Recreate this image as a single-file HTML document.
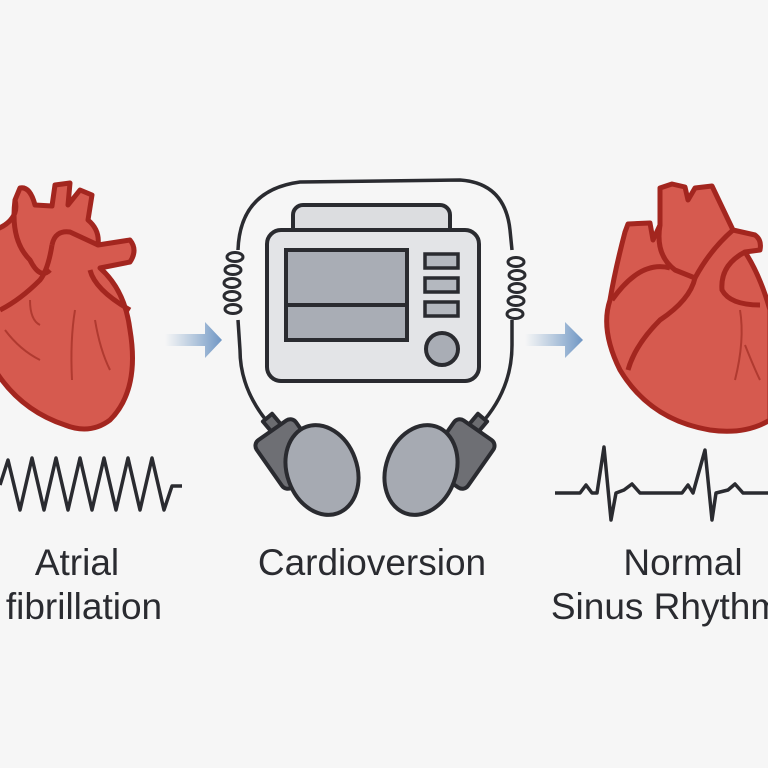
<!DOCTYPE html>
<html><head><style>
html,body{margin:0;padding:0;background:#f6f6f6;}
svg{display:block}
text{font-family:"Liberation Sans",sans-serif;fill:#2a2b30;font-size:37px;text-anchor:middle}
</style></head><body>
<svg width="768" height="768" viewBox="0 0 768 768" xmlns="http://www.w3.org/2000/svg">
<defs>
<linearGradient id="ag" x1="0" x2="1"><stop offset="0" stop-color="#7fa3c9" stop-opacity="0"/><stop offset="1" stop-color="#6f96c4"/></linearGradient>
</defs>
<rect width="768" height="768" fill="#f6f6f6"/>
<!-- left heart -->
<g stroke="#a3261f" stroke-width="5" fill="#d65a4f" stroke-linejoin="round">
<path d="M-5 230 Q20 220 15 200 L20 188 Q30 186 35 205 L52 206 L55 185 L70 183 L68 205 L80 190 L92 195 L88 220 Q100 230 98 245 L130 240 Q138 250 130 262 L100 268 Q125 290 130 330 Q140 390 110 420 Q90 435 65 425 Q20 410 -5 370 Z"/>
<path d="M15 200 Q10 240 30 260 Q40 280 50 270" fill="none"/>
<path d="M52 245 Q55 230 70 232 L98 245" fill="none"/>
<path d="M52 245 Q48 270 40 280 Q20 300 0 310" fill="none"/>
<path d="M90 270 Q95 290 130 310" fill="none"/>
<path d="M30 300 Q30 320 40 325 M75 310 Q70 340 72 380 M95 320 Q100 350 110 370 M5 330 Q20 350 40 360" stroke-width="2" fill="none" stroke="#b03a30"/>
</g>
<!-- right heart -->
<g stroke="#a3261f" stroke-width="5" fill="#d65a4f" stroke-linejoin="round">
<path d="M625 232 L628 224 L650 223 L653 240 L660 225 L660 188 L672 184 L685 187 L688 200 L695 188 L712 186 L733 230 L755 235 Q762 240 760 250 L745 252 Q760 275 770 310 L770 420 Q745 435 710 430 Q650 420 620 370 Q600 330 610 300 Q615 270 625 232 Z"/>
<path d="M660 225 Q655 255 675 270 L695 278 Q710 250 733 230" fill="none"/>
<path d="M612 300 Q640 260 670 268 M695 278 Q690 300 660 320 Q635 345 628 370" fill="none"/>
<path d="M745 252 Q720 265 722 290 Q730 305 760 305" fill="none"/>
<path d="M740 310 Q745 340 735 380 M745 345 Q755 370 760 380" stroke-width="2" fill="none" stroke="#b03a30"/>
</g>
<!-- ECG left -->
<polyline fill="none" stroke="#2a2b30" stroke-width="3.5" stroke-linejoin="round" points="0,485 8,460 20,510 32,458 44,510 56,458 68,510 80,458 92,510 104,458 116,510 128,458 140,510 152,458 164,510 172,486 182,486"/>
<!-- ECG right -->
<polyline fill="none" stroke="#2a2b30" stroke-width="3.5" stroke-linejoin="round" points="555,493 580,493 586,485 592,493 597,493 604,447 611,520 616,493 624,490 632,484 640,493 682,493 688,485 693,493 705,450 712,520 716,493 728,490 735,484 743,493 768,493"/>
<!-- arrows -->
<path d="M165 334 L205 334 L205 322 L222 340 L205 358 L205 346 L165 346 Z" fill="url(#ag)"/>
<path d="M525 334 L565 334 L565 322 L583 340 L565 358 L565 346 L525 346 Z" fill="url(#ag)"/>
<!-- cable -->
<g fill="none" stroke="#2a2b30" stroke-width="3.5">
<path d="M270 425 Q240 390 240 350 L238 320 M238 250 Q240 190 300 182 L460 180 Q505 183 510 230 L512 250 M512 320 L512 345 Q512 390 480 425"/>
<g stroke-width="3">
<ellipse cx="235" cy="257" rx="8" ry="4.5"/><ellipse cx="233" cy="270" rx="8" ry="4.5"/><ellipse cx="232" cy="283" rx="8" ry="4.5"/><ellipse cx="232" cy="296" rx="8" ry="4.5"/><ellipse cx="233" cy="309" rx="8" ry="4.5"/>
<ellipse cx="516" cy="262" rx="8" ry="4.5"/><ellipse cx="517" cy="275" rx="8" ry="4.5"/><ellipse cx="517" cy="288" rx="8" ry="4.5"/><ellipse cx="516" cy="301" rx="8" ry="4.5"/><ellipse cx="515" cy="314" rx="8" ry="4.5"/>
</g>
</g>
<!-- device -->
<g stroke="#2a2b30" stroke-width="4">
<rect x="293" y="205" width="157" height="35" rx="10" fill="#dcdde0"/>
<rect x="267" y="230" width="212" height="151" rx="14" fill="#e3e4e7"/>
<rect x="286" y="250" width="121" height="90" fill="#a9adb5"/>
<line x1="286" y1="305" x2="407" y2="305"/>
<rect x="425" y="254" width="33" height="14" fill="#b4b8bf" stroke-width="3.5"/>
<rect x="425" y="278" width="33" height="14" fill="#b4b8bf" stroke-width="3.5"/>
<rect x="425" y="302" width="33" height="14" fill="#b4b8bf" stroke-width="3.5"/>
<circle cx="442" cy="349" r="16" fill="#a9adb5"/>
</g>
<!-- paddles -->
<g stroke="#2a2b30" stroke-width="4" stroke-linejoin="round">
<rect x="266" y="416" width="12" height="14" fill="#6b6c70" transform="rotate(-40 272 423)"/>
<rect x="265" y="425" width="48" height="58" rx="7" fill="#6e6f74" transform="rotate(-35 289 454)"/>
<ellipse cx="322" cy="470" rx="35" ry="46" fill="#a6aab2" transform="rotate(-20 322 470)"/>
<rect x="472" y="416" width="12" height="14" fill="#6b6c70" transform="rotate(40 478 423)"/>
<rect x="437" y="425" width="48" height="58" rx="7" fill="#6e6f74" transform="rotate(35 461 454)"/>
<ellipse cx="421" cy="470" rx="35" ry="46" fill="#a6aab2" transform="rotate(20 421 470)"/>
</g>
<!-- labels -->
<text x="77" y="575">Atrial</text>
<text x="84" y="619">fibrillation</text>
<text x="372" y="575">Cardioversion</text>
<text x="683" y="575">Normal</text>
<text x="666" y="619">Sinus Rhythm</text>
</svg>
</body></html>
